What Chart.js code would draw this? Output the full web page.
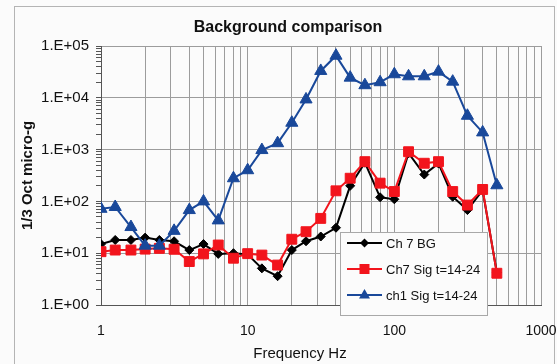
<!DOCTYPE html>
<html>
<head>
<meta charset="utf-8">
<title>Background comparison</title>
<script src="https://cdn.jsdelivr.net/npm/chart.js@4/dist/chart.umd.min.js"></script>
<style>
  html, body { margin: 0; padding: 0; background: #fbfbfb; }
  canvas { display: block; }
</style>
</head>
<body>
<canvas id="bgChart" width="557" height="364"></canvas>
<script>
// 1/3-octave band centre frequencies (Hz)
const freqs = [1, 1.25, 1.6, 2, 2.5, 3.15, 4, 5, 6.3, 8, 10, 12.5, 16, 20, 25, 31.5, 40, 50, 63, 80, 100, 125, 160, 200, 250, 315, 400, 500];

// band levels, micro-g
const ch7Background = [15, 18, 18, 20, 18, 17, 11.5, 15, 9.7, 10, 9.5, 5.1, 3.6, 11.5, 17, 21, 31, 200, 560, 120, 110, 850, 330, 540, 123, 68, 165, 4.2];
const ch7Signal = [10.7, 11.5, 11.5, 12, 12.4, 11.9, 6.9, 9.7, 14.4, 8, 9.8, 9.2, 5.9, 18.6, 26, 47, 160, 280, 585, 225, 155, 910, 545, 585, 155, 85, 170, 4.1];
const ch1Signal = [72, 78, 32, 14, 14, 27, 68, 100, 43, 280, 400, 980, 1330, 3300, 9300, 33000, 65000, 24500, 17500, 20000, 28500, 26000, 26000, 32000, 20500, 4500, 2150, 205];

const seriesNames = ['Ch 7 BG', 'Ch7 Sig t=14-24', 'ch1 Sig t=14-24'];
const xTickLabels = [1, 10, 100, 1000];
const yTickLabels = ['1.E+00', '1.E+01', '1.E+02', '1.E+03', '1.E+04', '1.E+05'];

const BLACK = '#000000';
const RED = '#f2141c';
const BLUE = '#19489a';
const GRID = '#9c9c9c';

const isDecade = v => Math.abs(Math.log10(v) - Math.round(Math.log10(v))) < 1e-6;

// 1,2,...,9 in every decade between min and max
function logTicks(min, max) {
  const out = [];
  for (let d = min; d < max; d *= 10) {
    for (let m = 1; m < 10; m++) out.push({ value: d * m });
  }
  out.push({ value: max });
  return out;
}

function points(ys) {
  return freqs.map((f, i) => ({ x: f, y: ys[i] }));
}

// marker shapes used in the legend box
function marker(ctx, style, x, y, color) {
  ctx.fillStyle = color;
  ctx.beginPath();
  if (style === 'rectRot') {
    ctx.moveTo(x, y - 4.5); ctx.lineTo(x + 4.5, y); ctx.lineTo(x, y + 4.5); ctx.lineTo(x - 4.5, y);
  } else if (style === 'rect') {
    ctx.rect(x - 5, y - 5, 10, 10);
  } else {
    ctx.moveTo(x, y - 6); ctx.lineTo(x + 5.5, y + 3.5); ctx.lineTo(x - 5.5, y + 3.5);
  }
  ctx.closePath();
  ctx.fill();
}

const decor = {
  id: 'decor',
  beforeDraw(chart) {
    const ctx = chart.ctx;
    ctx.save();
    ctx.fillStyle = '#fbfbfb';
    ctx.fillRect(0, 0, chart.width, chart.height);
    ctx.strokeStyle = '#b4b4b4';
    ctx.lineWidth = 1;
    ctx.strokeRect(14.5, 6.5, 540, 370);
    ctx.restore();
  },
  afterDraw(chart) {
    const ctx = chart.ctx;
    ctx.save();
    ctx.fillStyle = '#111';
    ctx.textAlign = 'center';
    ctx.textBaseline = 'middle';
    ctx.font = 'bold 16px "Liberation Sans", Arial, sans-serif';
    ctx.fillText('Background comparison', 288, 28);
    ctx.font = '15px "Liberation Sans", Arial, sans-serif';
    ctx.fillText('Frequency Hz', 300, 354);

    // legend box
    ctx.fillStyle = '#fbfbfb';
    ctx.fillRect(340, 232, 147, 83);
    ctx.strokeStyle = '#a8a8a8';
    ctx.strokeRect(340.5, 232.5, 147, 83);
    const rows = [243, 269, 295];
    ctx.font = '13px "Liberation Sans", Arial, sans-serif';
    ctx.textAlign = 'left';
    chart.data.datasets.forEach((ds, i) => {
      const y = rows[i];
      ctx.strokeStyle = ds.borderColor;
      ctx.lineWidth = 2;
      ctx.beginPath();
      ctx.moveTo(347, y);
      ctx.lineTo(382, y);
      ctx.stroke();
      marker(ctx, ds.pointStyle, 364.5, y, ds.pointBackgroundColor);
      ctx.fillStyle = '#111';
      ctx.fillText(ds.label, 386, y + 1);
    });
    ctx.restore();
  }
};

new Chart(document.getElementById('bgChart'), {
  type: 'line',
  data: {
    datasets: [
      {
        label: seriesNames[0], data: points(ch7Background), order: 3,
        borderColor: BLACK, borderWidth: 2, pointStyle: 'rectRot', pointRadius: 4.5,
        pointBackgroundColor: BLACK, pointBorderColor: BLACK, pointBorderWidth: 1
      },
      {
        label: seriesNames[1], data: points(ch7Signal), order: 2,
        borderColor: RED, borderWidth: 2, pointStyle: 'rect', pointRadius: 7,
        pointBackgroundColor: RED, pointBorderColor: RED, pointBorderWidth: 1
      },
      {
        label: seriesNames[2], data: points(ch1Signal), order: 1,
        borderColor: BLUE, borderWidth: 2, pointStyle: 'triangle', pointRadius: 7,
        pointBackgroundColor: BLUE, pointBorderColor: BLUE, pointBorderWidth: 1
      }
    ]
  },
  options: {
    responsive: false,
    animation: false,
    devicePixelRatio: 1,
    layout: { padding: { top: 46, right: 0, bottom: 0, left: 0 } },
    plugins: {
      legend: { display: false },
      title: { display: false },
      tooltip: { enabled: false }
    },
    scales: {
      x: {
        type: 'logarithmic',
        min: 1,
        max: 1000,
        afterBuildTicks: s => { s.ticks = logTicks(1, 1000); },
        afterFit: s => { s.height = 59; s.paddingRight = 16; },
        grid: { color: GRID, lineWidth: 1, drawTicks: false },
        border: { color: '#555', width: 1 },
        ticks: {
          autoSkip: false,
          maxRotation: 0,
          padding: 18,
          color: '#111',
          font: { family: '"Liberation Sans", Arial, sans-serif', size: 14 },
          callback: v => (xTickLabels.includes(v) ? String(v) : '')
        }
      },
      y: {
        type: 'logarithmic',
        min: 1,
        max: 100000,
        afterBuildTicks: s => { s.ticks = logTicks(1, 100000); },
        afterFit: s => { s.width = 101; },
        grid: {
          color: c => (isDecade(c.tick.value) ? GRID : 'rgba(0,0,0,0)'),
          tickColor: '#555',
          tickLength: 5
        },
        border: { color: '#555', width: 1 },
        title: {
          display: true,
          text: '1/3 Oct micro-g',
          color: '#111',
          font: { family: '"Liberation Sans", Arial, sans-serif', size: 15, weight: 'bold' },
          padding: { top: 19, bottom: 0 }
        },
        ticks: {
          autoSkip: false,
          padding: 7,
          color: '#111',
          font: { family: '"Liberation Sans", Arial, sans-serif', size: 15 },
          callback: v => (isDecade(v) ? yTickLabels[Math.round(Math.log10(v))] : '')
        }
      }
    }
  },
  plugins: [decor]
});
</script>
</body>
</html>
